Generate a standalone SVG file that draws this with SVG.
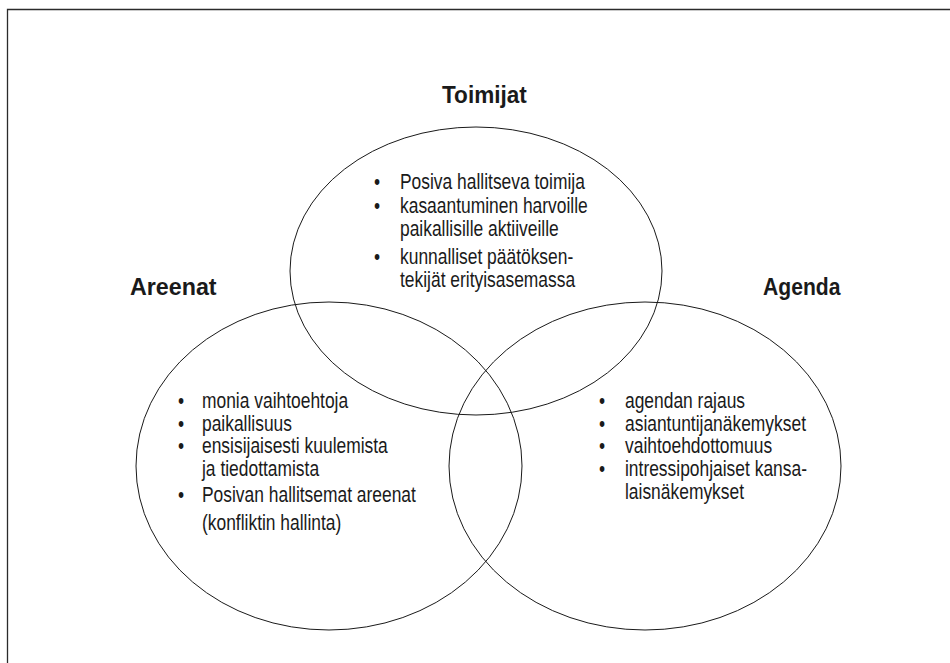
<svg xmlns="http://www.w3.org/2000/svg" width="950" height="663" viewBox="0 0 950 663">
<style>
.ring{fill:none;stroke:#1a1a1a;stroke-width:1}
.t{font-family:"Liberation Sans",Arial,sans-serif;font-size:22px;fill:#1a1a1a}
.h{font-family:"Liberation Sans",Arial,sans-serif;font-size:24px;font-weight:bold;fill:#1a1a1a}
.frame{fill:none;stroke:#2b2b2b;stroke-width:1.3}
</style>
<rect width="950" height="663" fill="#ffffff"/>
<path class="frame" d="M7.5,663 V9.5 H950"/>
<g id="connectors"></g>
<g id="toimijat">
<ellipse class="ring" cx="476" cy="271" rx="186" ry="144"/>
<text class="h" transform="matrix(0.94 0 0 1 442 103)">Toimijat</text>
<text class="t" transform="matrix(0.792 0 0 1 374 189)">•</text>
<text class="t" transform="matrix(0.792 0 0 1 400 189)">Posiva hallitseva toimija</text>
<text class="t" transform="matrix(0.792 0 0 1 374 212.5)">•</text>
<text class="t" transform="matrix(0.792 0 0 1 400 212.5)">kasaantuminen harvoille</text>
<text class="t" transform="matrix(0.792 0 0 1 400 236)">paikallisille aktiiveille</text>
<text class="t" transform="matrix(0.792 0 0 1 374 264)">•</text>
<text class="t" transform="matrix(0.792 0 0 1 400 264)">kunnalliset päätöksen-</text>
<text class="t" transform="matrix(0.792 0 0 1 400 287)">tekijät erityisasemassa</text>
</g>
<g id="areenat">
<ellipse class="ring" cx="329" cy="466" rx="193" ry="164"/>
<text class="h" transform="matrix(0.97 0 0 1 130 295)">Areenat</text>
<text class="t" transform="matrix(0.792 0 0 1 178 408)">•</text>
<text class="t" transform="matrix(0.792 0 0 1 202 408)">monia vaihtoehtoja</text>
<text class="t" transform="matrix(0.792 0 0 1 178 431)">•</text>
<text class="t" transform="matrix(0.792 0 0 1 202 431)">paikallisuus</text>
<text class="t" transform="matrix(0.792 0 0 1 178 453)">•</text>
<text class="t" transform="matrix(0.792 0 0 1 202 453)">ensisijaisesti kuulemista</text>
<text class="t" transform="matrix(0.792 0 0 1 202 476)">ja tiedottamista</text>
<text class="t" transform="matrix(0.792 0 0 1 178 502)">•</text>
<text class="t" transform="matrix(0.792 0 0 1 202 502)">Posivan hallitsemat areenat</text>
<text class="t" transform="matrix(0.792 0 0 1 202 530)">(konfliktin hallinta)</text>
</g>
<g id="agenda">
<ellipse class="ring" cx="645" cy="466" rx="196" ry="164"/>
<text class="h" transform="matrix(0.88 0 0 1 763 295)">Agenda</text>
<text class="t" transform="matrix(0.792 0 0 1 599 408)">•</text>
<text class="t" transform="matrix(0.792 0 0 1 625 408)">agendan rajaus</text>
<text class="t" transform="matrix(0.792 0 0 1 599 431)">•</text>
<text class="t" transform="matrix(0.792 0 0 1 625 431)">asiantuntijanäkemykset</text>
<text class="t" transform="matrix(0.792 0 0 1 599 453)">•</text>
<text class="t" transform="matrix(0.792 0 0 1 625 453)">vaihtoehdottomuus</text>
<text class="t" transform="matrix(0.792 0 0 1 599 476)">•</text>
<text class="t" transform="matrix(0.792 0 0 1 625 476)">intressipohjaiset kansa-</text>
<text class="t" transform="matrix(0.792 0 0 1 625 499)">laisnäkemykset</text>
</g>
</svg>
